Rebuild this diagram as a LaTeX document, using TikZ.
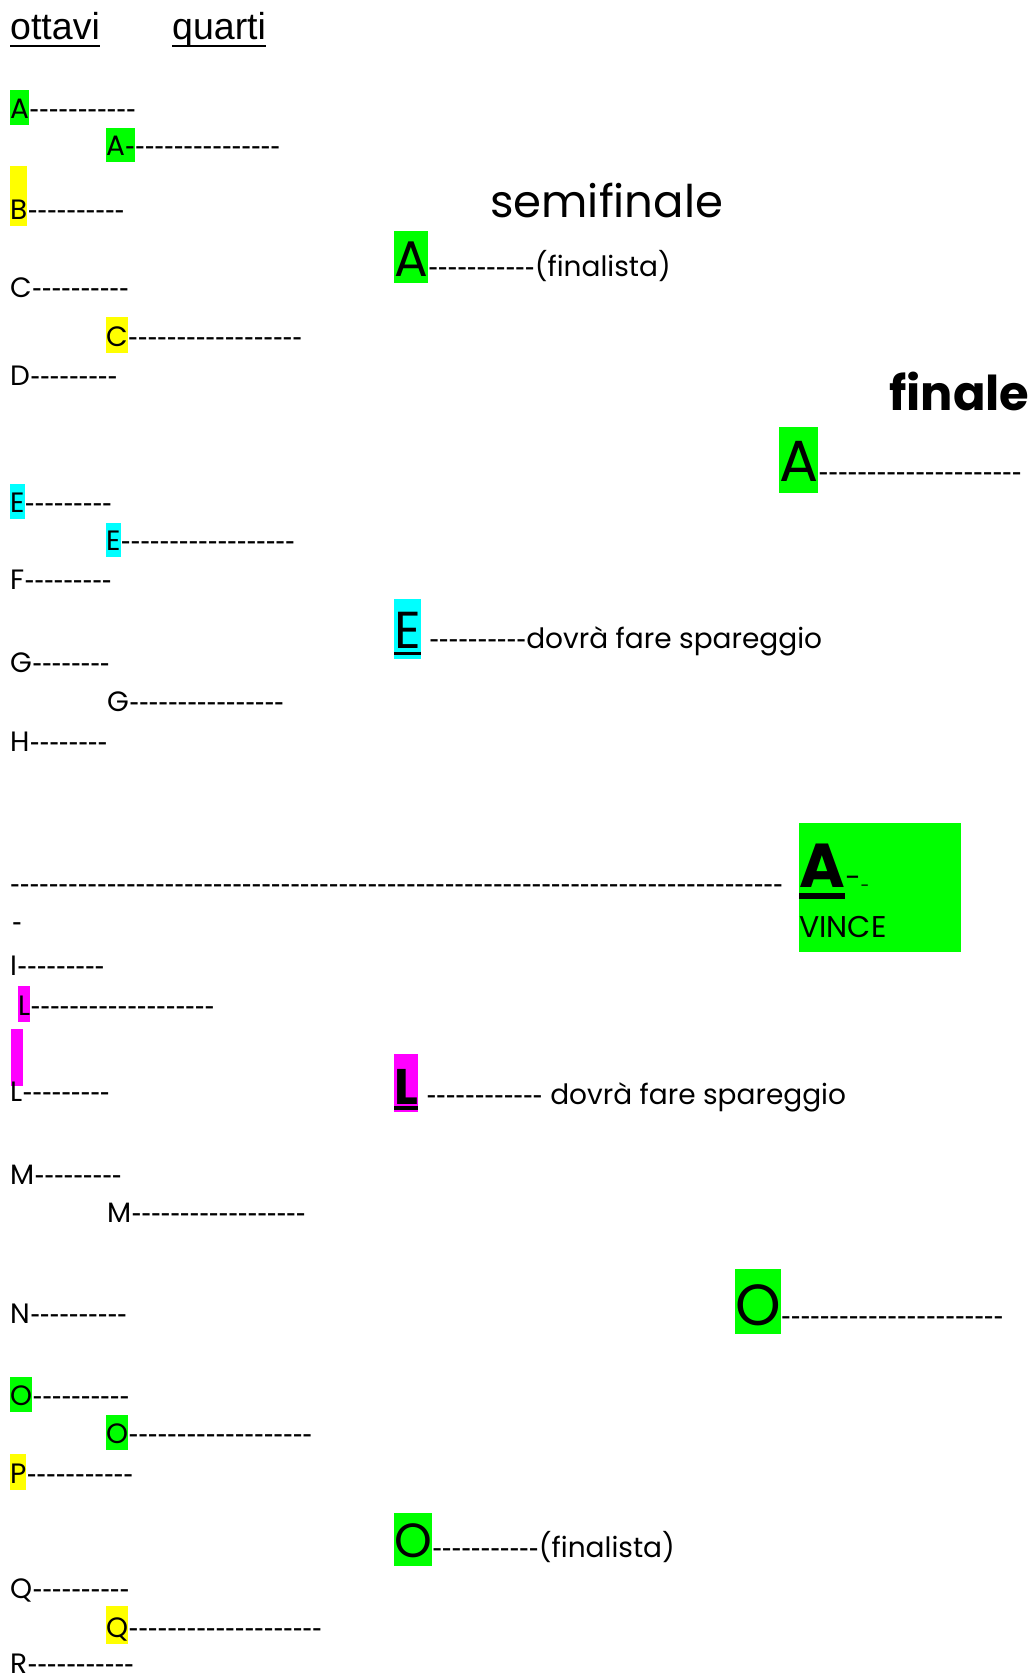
\documentclass[tikz,border=0pt]{standalone}
\usepackage{fontspec}
\setmainfont{Poppins}[Ligatures=TeXOff]
\newfontfamily\titlefont{Liberation Sans}
\newfontfamily\dashfamily{Liberation Sans}
\newcommand\dashtxt[1]{{\dashfamily\fontsize{29}{30}\selectfont#1}}
\usetikzlibrary{positioning}
\definecolor{hlgreen}{RGB}{0,255,0}
\definecolor{hlyellow}{RGB}{255,255,0}
\definecolor{hlcyan}{RGB}{0,255,255}
\definecolor{hlpink}{RGB}{255,0,255}

\begin{document}
\begin{tikzpicture}[x=1pt, y=-1pt,
row/.style={inner sep=0pt, anchor=base west, font=\fontsize{28}{30}\selectfont},
dashes/.style={row, font=\dashfamily\fontsize{29}{30}\selectfont},
mid/.style={row, font=\fontsize{28}{32}\selectfont},
big/.style={row, font=\fontsize{#1}{#1}\selectfont},
hl/.style={fill=#1, text height=28pt, text depth=7pt},
uline/.style={line width=#1}]
\useasboundingbox (0,0) rectangle (1032,1675);

%titles
\node[row, font=\titlefont\fontsize{37.5}{40}\selectfont] (ottavi) at (10,40) {ottavi};
\node[row, font=\titlefont\fontsize{37.5}{40}\selectfont] (quarti) at (172,40) {quarti};
\draw[uline=2.5pt] ([yshift=-6pt]ottavi.base west) -- ([yshift=-6pt]ottavi.base east);
\draw[uline=2.5pt] ([yshift=-6pt]quarti.base west) -- ([yshift=-6pt]quarti.base east);

%ottavi e quarti
\node[row, hl=hlgreen] (a1) at (10,118) {A};
\node[dashes] (a1d) at (a1.base east) {-----------};
\node[row, hl=hlgreen, text height=27pt] (a2) at (106,155) {A\dashtxt{-}};
\node[dashes] (a2d) at (a2.base east) {---------------};
\node[row, hl=hlyellow, text height=53pt] (b1) at (10,219) {B};
\node[dashes] (b1d) at (b1.base east) {----------};
\node[row] (c1) at (10,297) {C};
\node[dashes] (c1d) at (c1.base east) {----------};
\node[row, hl=hlyellow, text height=29pt] (c2) at (106,346) {C};
\node[dashes] (c2d) at (c2.base east) {------------------};
\node[row] (d1) at (10,385) {D};
\node[dashes] (d1d) at (d1.base east) {---------};

\node[row, hl=hlcyan] (e1) at (10,512) {E};
\node[dashes] (e1d) at (e1.base east) {---------};
\node[row, hl=hlcyan, text height=27pt] (e2) at (106,550) {E};
\node[dashes] (e2d) at (e2.base east) {------------------};
\node[row] (f1) at (10,589) {F};
\node[dashes] (f1d) at (f1.base east) {---------};
\node[row] (g1) at (10,672) {G};
\node[dashes] (g1d) at (g1.base east) {--------};
\node[row] (g2) at (107,711) {G};
\node[dashes] (g2d) at (g2.base east) {----------------};
\node[row] (h1) at (10,751) {H};
\node[dashes] (h1d) at (h1.base east) {--------};

\node[dashes] (line) at (10,893) {--------------------------------------------------------------------------------};
\node[dashes] (line2) at (12,931) {-};

\node[row] (i1) at (10,975) {I};
\node[dashes] (i1d) at (i1.base east) {---------};
\node[row, hl=hlpink, text height=29pt] (l1) at (18,1015) {L};
\node[dashes] (l1d) at (l1.base east) {-------------------};
\fill[hlpink] (11,1029) rectangle (23,1086);
\node[row] (l2) at (10,1101) {L};
\node[dashes] (l2d) at (l2.base east) {---------};
\node[row] (m1) at (10,1184) {M};
\node[dashes] (m1d) at (m1.base east) {---------};
\node[row] (m2) at (107,1222) {M};
\node[dashes] (m2d) at (m2.base east) {------------------};
\node[row] (n1) at (10,1323) {N};
\node[dashes] (n1d) at (n1.base east) {----------};

\node[row, hl=hlgreen] (o1) at (10,1405) {O};
\node[dashes] (o1d) at (o1.base east) {----------};
\node[row, hl=hlgreen] (o2) at (106,1443) {O};
\node[dashes] (o2d) at (o2.base east) {-------------------};
\node[row, hl=hlyellow, text height=29pt] (p1) at (10,1483) {P};
\node[dashes] (p1d) at (p1.base east) {-----------};
\node[row] (q1) at (10,1598) {Q};
\node[dashes] (q1d) at (q1.base east) {----------};
\node[row, hl=hlyellow, text height=31pt] (q2) at (106,1637) {Q};
\node[dashes] (q2d) at (q2.base east) {--------------------};
\node[row] (r1) at (10,1673) {R};
\node[dashes] (r1d) at (r1.base east) {-----------};

%semifinale
\node[big=45] (semi) at (490,217) {semifinale};
\node[big=50, hl=hlgreen, text height=45pt] (asemi) at (394,276) {A};
\node[dashes] (asemid) at (asemi.base east) {-----------};
\node[mid] (asemit) at (asemid.base east) {(finalista)};
\node[big=52, hl=hlcyan, text height=49pt, text depth=11pt] (esemi) at (394,648) {E};
\draw[uline=3pt] ([yshift=-5.5pt]esemi.base west) -- ([yshift=-5.5pt]esemi.base east);
\node[dashes] (esemid) at (esemi.base east) {\ ----------};
\node[mid] (esemit) at (esemid.base east) {dovrà fare spareggio};
\node[big=50, hl=hlpink, text height=50pt, text depth=8pt, font=\bfseries\fontsize{50}{50}\selectfont] (lsemi) at (394,1104) {L};
\draw[uline=4pt] ([yshift=-4pt]lsemi.base west) -- ([yshift=-4pt]lsemi.base east);
\node[dashes] (lsemid) at (lsemi.base east) {\ ------------};
\node[mid] (lsemit) at (lsemid.base east) {\ dovrà fare spareggio};
\node[big=48, hl=hlgreen, text height=44pt, text depth=9pt] (osemi) at (394,1557) {O};
\node[dashes] (osemid) at (osemi.base east) {-----------};
\node[mid] (osemit) at (osemid.base east) {(finalista)};

%finale
\node[row, font=\bfseries\fontsize{48}{48}\selectfont] (finale) at (889,410) {finale};
\node[big=58, hl=hlgreen, text height=54pt, text depth=12pt] (afin) at (779,481) {A};
\node[dashes] (afind) at (afin.base east) {---------------------};
\node[big=58, hl=hlgreen, text height=56pt, text depth=9pt] (ofin) at (735,1325) {O};
\node[dashes] (ofind) at (ofin.base east) {-----------------------};

%vincitore
\node[fill=hlgreen, minimum width=162pt, minimum height=129pt, inner sep=0pt, anchor=north west] (vince) at (799,823) {};
\node[row, font=\bfseries\fontsize{62}{62}\selectfont] (avince) at (799,887) {A};
\draw[uline=6pt] ([yshift=-9pt]avince.base west) -- ([yshift=-9pt]avince.base east);
\node[row] (avinced) at (avince.base east) {-\raisebox{-4pt}{\fontsize{16}{16}\selectfont -}};
\node[row, font=\fontsize{30}{30}\selectfont] (vincetxt) at (799,937) {VINCE};
\end{tikzpicture}
\end{document}
